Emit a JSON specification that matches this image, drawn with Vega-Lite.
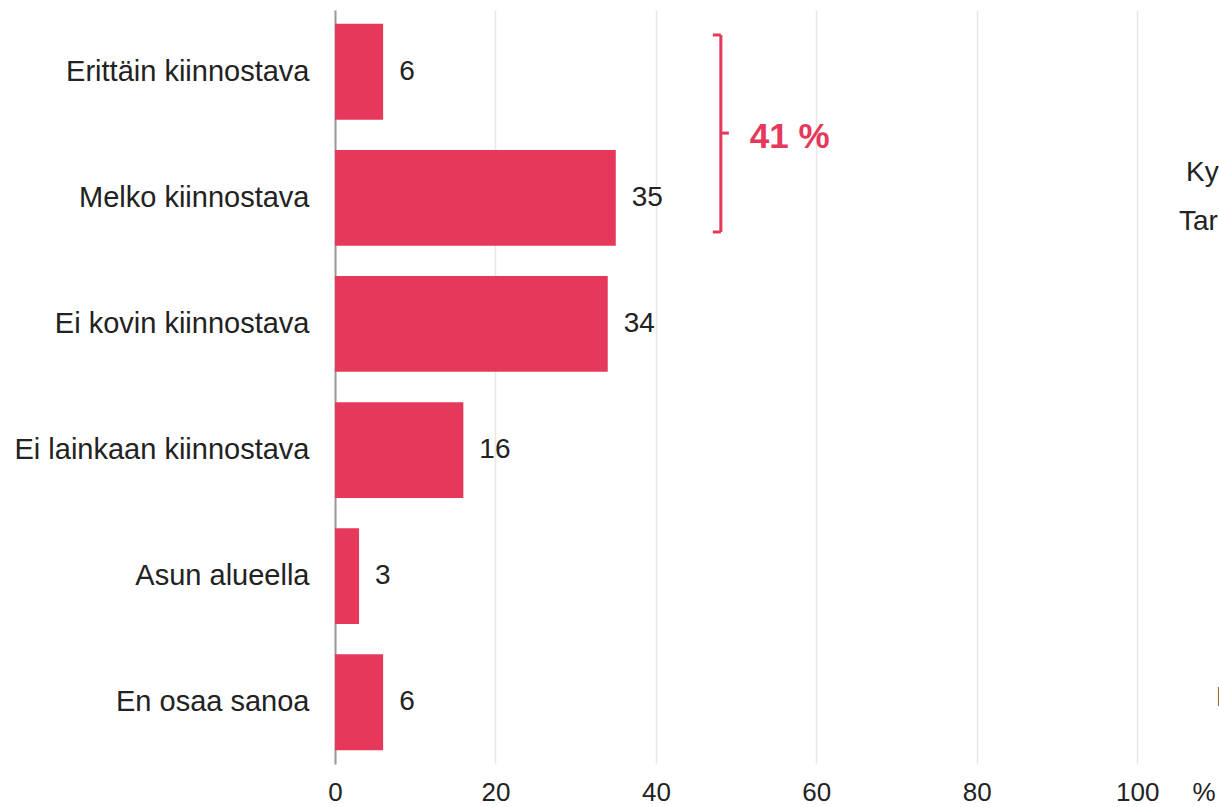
{
  "$schema": "https://vega.github.io/schema/vega-lite/v6.json",
  "autosize": {"type": "none"},
  "padding": {"left": 335, "top": 10, "right": 0, "bottom": 43},
  "width": 884,
  "height": 754,
  "config": {
    "font": "Liberation Sans",
    "view": {"stroke": null},
    "axis": {"labelColor": "#222222", "titleColor": "#222222"}
  },
  "datasets": {
    "bars": [
      {"vastaus": "Erittäin kiinnostava", "osuus": 6},
      {"vastaus": "Melko kiinnostava", "osuus": 35},
      {"vastaus": "Ei kovin kiinnostava", "osuus": 34},
      {"vastaus": "Ei lainkaan kiinnostava", "osuus": 16},
      {"vastaus": "Asun alueella", "osuus": 3},
      {"vastaus": "En osaa sanoa", "osuus": 6}
    ],
    "bracket": [
      {"x": 48.1, "xl": 47.1, "xr": 49.1, "top": "Erittäin kiinnostava", "bottom": "Melko kiinnostava", "label": "41 %", "lx": 51.7}
    ],
    "notes": [
      {"x": 106.1, "vastaus": "Melko kiinnostava", "teksti": "Kysely"}
    ],
    "notes2": [
      {"x": 105.2, "vastaus": "Melko kiinnostava", "teksti": "Tarkastelu"}
    ],
    "notes3": [
      {"x": 109.8, "vastaus": "En osaa sanoa", "teksti": "I"}
    ]
  },
  "layer": [
    {
      "data": {"name": "bars"},
      "mark": {"type": "bar", "color": "#e5385a"},
      "encoding": {
        "y": {
          "field": "vastaus",
          "type": "nominal",
          "sort": null,
          "scale": {
            "domain": ["Erittäin kiinnostava", "Melko kiinnostava", "Ei kovin kiinnostava", "Ei lainkaan kiinnostava", "Asun alueella", "En osaa sanoa"],
            "paddingInner": 0.24,
            "paddingOuter": 0.11
          },
          "axis": {
            "title": null,
            "domain": true,
            "domainColor": "#999999",
            "domainWidth": 2,
            "ticks": false,
            "tickSize": 0,
            "labelPadding": 26,
            "labelFontSize": 29,
            "labelLimit": 400,
            "grid": false
          }
        },
        "x": {
          "field": "osuus",
          "type": "quantitative",
          "scale": {"domain": [0, 110.2], "nice": false, "zero": true},
          "axis": {
            "values": [0, 20, 40, 60, 80, 100],
            "grid": true,
            "gridColor": "#e8e8e8",
            "gridWidth": 1.5,
            "domain": false,
            "ticks": false,
            "tickSize": 0,
            "labelFontSize": 26,
            "labelBaseline": "alphabetic",
            "labelPadding": 36,
            "labelFlush": false,
            "title": "%",
            "titleFontSize": 26,
            "titleFontWeight": "normal",
            "titleAlign": "left",
            "titleBaseline": "alphabetic",
            "titleX": 857,
            "titleY": 36
          }
        }
      }
    },
    {
      "data": {"name": "bars"},
      "mark": {"type": "text", "align": "left", "baseline": "middle", "dx": 16, "fontSize": 28, "color": "#222222"},
      "encoding": {
        "y": {"field": "vastaus", "type": "nominal"},
        "x": {"field": "osuus", "type": "quantitative"},
        "text": {"field": "osuus", "type": "quantitative"}
      }
    },
    {
      "data": {"name": "bracket"},
      "mark": {"type": "rule", "color": "#e5385a", "strokeWidth": 3},
      "encoding": {
        "x": {"field": "x", "type": "quantitative"},
        "y": {"field": "top", "type": "nominal", "bandPosition": 0.116},
        "y2": {"field": "bottom", "bandPosition": 0.856}
      }
    },
    {
      "data": {"name": "bracket"},
      "mark": {"type": "rule", "color": "#e5385a", "strokeWidth": 3},
      "encoding": {
        "x": {"field": "xl", "type": "quantitative"},
        "x2": {"field": "x"},
        "y": {"field": "top", "type": "nominal", "bandPosition": 0.116}
      }
    },
    {
      "data": {"name": "bracket"},
      "mark": {"type": "rule", "color": "#e5385a", "strokeWidth": 3},
      "encoding": {
        "x": {"field": "xl", "type": "quantitative"},
        "x2": {"field": "x"},
        "y": {"field": "bottom", "type": "nominal", "bandPosition": 0.856}
      }
    },
    {
      "data": {"name": "bracket"},
      "mark": {"type": "rule", "color": "#e5385a", "strokeWidth": 3},
      "encoding": {
        "x": {"field": "x", "type": "quantitative"},
        "x2": {"field": "xr"},
        "y": {"field": "top", "type": "nominal", "bandPosition": 1.14}
      }
    },
    {
      "data": {"name": "bracket"},
      "mark": {"type": "text", "align": "left", "baseline": "middle", "dy": 4, "fontSize": 35, "fontWeight": "bold", "color": "#e5385a"},
      "encoding": {
        "x": {"field": "lx", "type": "quantitative"},
        "y": {"field": "top", "type": "nominal", "bandPosition": 1.14},
        "text": {"field": "label", "type": "nominal"}
      }
    },
    {
      "data": {"name": "notes"},
      "mark": {"type": "text", "align": "left", "baseline": "middle", "fontSize": 28, "color": "#222222"},
      "encoding": {
        "x": {"field": "x", "type": "quantitative"},
        "y": {"field": "vastaus", "type": "nominal", "bandPosition": 0.24},
        "text": {"field": "teksti", "type": "nominal"}
      }
    },
    {
      "data": {"name": "notes2"},
      "mark": {"type": "text", "align": "left", "baseline": "middle", "fontSize": 28, "color": "#222222"},
      "encoding": {
        "x": {"field": "x", "type": "quantitative"},
        "y": {"field": "vastaus", "type": "nominal", "bandPosition": 0.75},
        "text": {"field": "teksti", "type": "nominal"}
      }
    },
    {
      "data": {"name": "notes3"},
      "mark": {"type": "text", "align": "left", "baseline": "middle", "fontSize": 28, "color": "#222222"},
      "encoding": {
        "x": {"field": "x", "type": "quantitative"},
        "y": {"field": "vastaus", "type": "nominal", "bandPosition": 0.456},
        "text": {"field": "teksti", "type": "nominal"}
      }
    }
  ]
}
